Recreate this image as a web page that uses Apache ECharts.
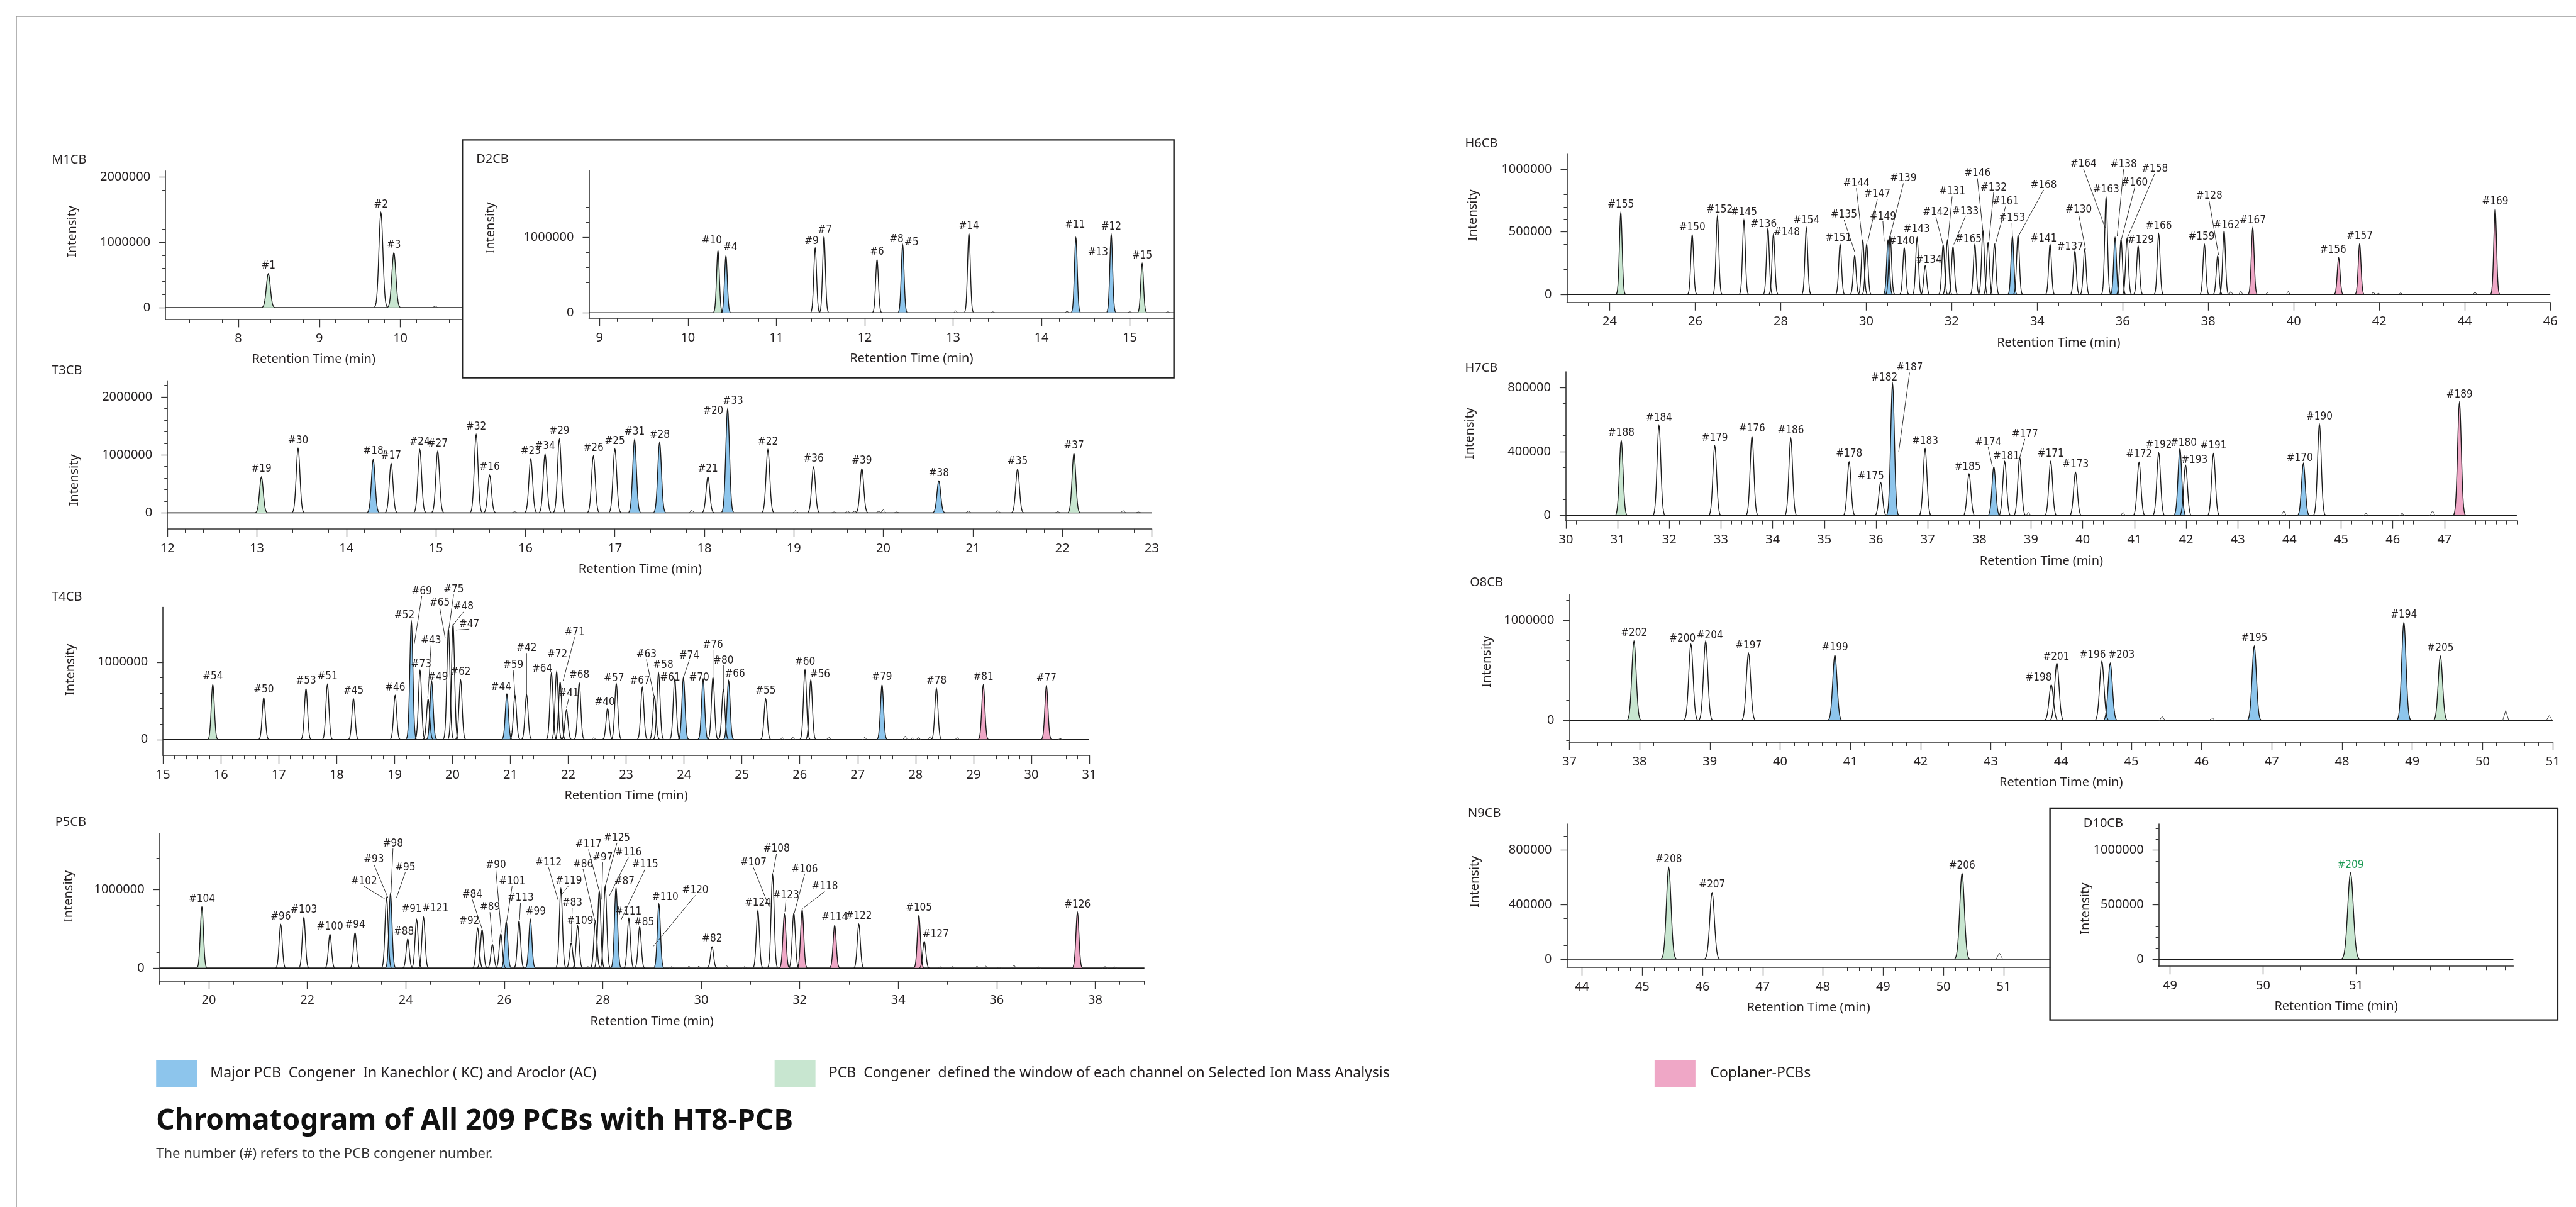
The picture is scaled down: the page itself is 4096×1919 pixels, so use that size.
<!DOCTYPE html>
<html><head><meta charset="utf-8">
<script src="https://cdn.jsdelivr.net/npm/echarts@6/dist/echarts.min.js"></script>
<style>html,body{margin:0;padding:0;background:#fff}#c{width:4096px;height:1919px}</style>
</head><body><div id="c"></div>
<script>
// ---------------- DATA ----------------
// peak rows: [label, retentionTime, intensity(null = label only), class(0 none,1 major,2 window,3 coplanar), labelRt, labelY, leaderRt, leaderY]
const M1CB_PEAKS = [
 ['#1', 8.37, 520000, 2], ['#2', 9.76, 1450000, 0], ['#3', 9.92, 840000, 2]
];
const M1CB_NOISE = [[10.43, 25000]];
const M1CB_XTICKS = [8, 9, 10];
const M1CB_YTICKS = [0, 1000000, 2000000];

const D2CB_PEAKS = [
 ['#10', 10.34, 823000, 2, 10.27, 956000], ['#4', 10.43, 753000, 1, 10.48, 869000],
 ['#9', 11.44, 856000, 0, 11.40, 945000], ['#7', 11.54, 1010000, 0, 11.55, 1100000],
 ['#6', 12.14, 703000, 0], ['#8', 12.43, 900000, 1, 12.36, 970000], ['#5', 12.43, null, 0, 12.53, 930000],
 ['#14', 13.18, 1048000, 0], ['#11', 14.39, 993000, 1, 14.38, 1168000], ['#13', 14.64, null, 0, 14.64, 797000],
 ['#12', 14.79, 1037000, 1], ['#15', 15.14, 655000, 2]
];
const D2CB_NOISE = [[13.03, 25000], [13.45, 12000], [14.29, 20000], [15.0, 15000], [15.43, 12000]];
const D2CB_XTICKS = [9, 10, 11, 12, 13, 14, 15];
const D2CB_YTICKS = [0, 1000000];

const T3CB_PEAKS = [
 ['#19', 13.05, 620000, 2], ['#30', 13.46, 1110000, 0], ['#18', 14.30, 920000, 1], ['#17', 14.50, 850000, 0],
 ['#24', 14.82, 1090000, 0], ['#27', 15.02, 1060000, 0], ['#32', 15.45, 1350000, 0], ['#16', 15.60, 650000, 0],
 ['#23', 16.06, 930000, 0], ['#34', 16.22, 1010000, 0], ['#29', 16.38, 1270000, 0], ['#26', 16.76, 980000, 0],
 ['#25', 17.00, 1100000, 0], ['#31', 17.22, 1260000, 1], ['#28', 17.50, 1210000, 1], ['#21', 18.04, 620000, 0],
 ['#20', 18.26, 1790000, 1, 18.10, 1760000], ['#33', 18.26, null, 0, 18.32, 1930000],
 ['#22', 18.71, 1090000, 0], ['#36', 19.22, 790000, 0], ['#39', 19.76, 760000, 0], ['#38', 20.62, 550000, 1],
 ['#35', 21.50, 750000, 0], ['#37', 22.13, 1020000, 2]
];
const T3CB_NOISE = [[15.88, 20000], [17.86, 45000], [19.02, 45000], [19.45, 15000], [19.6, 30000], [19.68, 30000],
 [19.95, 30000], [20.0, 55000], [20.15, 15000], [20.95, 30000], [21.28, 35000], [21.95, 20000], [22.68, 40000], [22.85, 15000]];
const T3CB_XTICKS = [12, 13, 14, 15, 16, 17, 18, 19, 20, 21, 22, 23];
const T3CB_YTICKS = [0, 1000000, 2000000];

const T4CB_PEAKS = [
 ['#54', 15.86, 710000, 2], ['#50', 16.74, 540000, 0], ['#53', 17.47, 655000, 0], ['#51', 17.84, 710000, 0],
 ['#45', 18.29, 525000, 0], ['#46', 19.01, 570000, 0],
 ['#52', 19.29, 1520000, 1, 19.17, 1606000], ['#69', 19.34, null, 0, 19.47, 1915000, 19.34, 1234000],
 ['#73', 19.44, 890000, 0, 19.46, 968000], ['#43', 19.58, 520000, 0, 19.63, 1277000, 19.575, 543000],
 ['#49', 19.64, 755000, 1, 19.75, 810000], ['#65', 19.875, null, 0, 19.78, 1766000, 19.875, 1309000],
 ['#75', 19.93, 1430000, 0, 20.02, 1936000, 19.94, 1436000], ['#48', 20.01, 1480000, 0, 20.19, 1713000, 20.01, 1479000],
 ['#47', 20.06, null, 0, 20.29, 1489000, 20.06, 1415000], ['#62', 20.14, 770000, 0],
 ['#44', 20.94, 585000, 1, 20.84, 680000], ['#59', 21.08, 570000, 0, 21.05, 957000, 21.08, 570000],
 ['#42', 21.28, 580000, 0, 21.28, 1180000, 21.28, 580000], ['#64', 21.71, 860000, 0, 21.55, 915000],
 ['#72', 21.80, 875000, 0, 21.81, 1096000], ['#71', 21.86, 740000, 0, 22.11, 1383000, 21.91, 755000],
 ['#41', 21.97, 380000, 0, 22.01, 596000, 21.97, 415000], ['#68', 22.19, 730000, 0],
 ['#40', 22.68, 400000, 0, 22.63, 485000], ['#57', 22.83, 720000, 0, 22.79, 787000],
 ['#67', 23.28, 675000, 0, 23.24, 760000], ['#63', 23.49, 560000, 0, 23.35, 1096000, 23.48, 564000],
 ['#58', 23.56, 860000, 0, 23.64, 957000], ['#61', 23.84, 780000, 0, 23.76, 800000],
 ['#74', 23.99, 800000, 1, 24.09, 1085000, 23.99, 800000], ['#70', 24.33, 780000, 1, 24.26, 800000],
 ['#76', 24.50, 800000, 0, 24.50, 1223000, 24.50, 800000], ['#80', 24.68, 645000, 0, 24.68, 1020000, 24.68, 645000],
 ['#66', 24.77, 760000, 1, 24.88, 850000], ['#55', 25.41, 525000, 0], ['#60', 26.09, 900000, 0],
 ['#56', 26.19, 770000, 0, 26.35, 840000], ['#79', 27.42, 705000, 1], ['#78', 28.36, 660000, 0],
 ['#81', 29.17, 705000, 3], ['#77', 30.26, 690000, 3]
];
const T4CB_NOISE = [[22.44, 25000], [25.7, 25000], [25.88, 30000], [26.5, 35000], [27.12, 30000], [27.82, 45000],
 [27.95, 25000], [28.05, 25000], [28.25, 40000], [28.72, 25000], [30.5, 12000]];
const T4CB_XTICKS = [15, 16, 17, 18, 19, 20, 21, 22, 23, 24, 25, 26, 27, 28, 29, 30, 31];
const T4CB_YTICKS = [0, 1000000];

const P5CB_PEAKS = [
 ['#104', 19.86, 780000, 2], ['#96', 21.46, 556000, 0], ['#103', 21.93, 644000, 0], ['#100', 22.46, 430000, 0],
 ['#94', 22.97, 450000, 0], ['#102', 23.61, 895000, 0, 23.15, 1105000, 23.57, 885000],
 ['#93', 23.64, null, 0, 23.35, 1387000, 23.64, 895000], ['#98', 23.69, 950000, 1, 23.74, 1586000, 23.70, 958000],
 ['#95', 23.81, null, 0, 23.99, 1282000, 23.81, 895000], ['#88', 24.04, 370000, 0, 23.96, 460000],
 ['#91', 24.22, 620000, 0, 24.12, 749000], ['#121', 24.36, 650000, 0, 24.60, 760000],
 ['#92', 25.46, 510000, 0, 25.29, 600000], ['#84', 25.55, 490000, 0, 25.35, 937000, 25.55, 498000],
 ['#89', 25.76, 300000, 0, 25.71, 774000, 25.76, 330000], ['#90', 25.93, 435000, 0, 25.83, 1314000, 25.94, 456000],
 ['#101', 26.04, 590000, 1, 26.16, 1105000, 26.05, 600000], ['#113', 26.30, 600000, 0, 26.33, 895000, 26.31, 613000],
 ['#99', 26.53, 620000, 1, 26.64, 718000], ['#112', 27.15, 1010000, 0, 26.90, 1345000, 27.10, 854000],
 ['#119', 27.16, null, 0, 27.31, 1115000, 27.16, 937000], ['#83', 27.36, 320000, 0, 27.38, 833000, 27.36, 330000],
 ['#109', 27.49, 540000, 0, 27.54, 600000], ['#86', 27.85, 600000, 0, 27.60, 1324000, 27.84, 600000],
 ['#117', 27.93, 980000, 0, 27.71, 1575000, 27.93, 980000], ['#97', 27.98, null, 0, 28.0, 1410000, 27.98, 874000],
 ['#125', 28.05, 1040000, 0, 28.29, 1660000, 28.05, 1040000], ['#116', 28.13, null, 0, 28.52, 1470000, 28.13, 916000],
 ['#87', 28.27, 1020000, 1, 28.44, 1105000], ['#115', 28.37, null, 0, 28.86, 1324000, 28.37, 613000],
 ['#111', 28.53, 634000, 0, 28.52, 718000], ['#85', 28.75, 525000, 0, 28.84, 586000],
 ['#110', 29.14, 816000, 1, 29.27, 906000], ['#120', 29.03, null, 0, 29.88, 990000, 29.03, 278000],
 ['#82', 30.22, 270000, 0], ['#124', 31.15, 730000, 0], ['#107', 31.38, null, 0, 31.06, 1345000, 31.38, 780000],
 ['#108', 31.45, 1190000, 0, 31.53, 1523000, 31.46, 1220000], ['#123', 31.69, 686000, 3, 31.72, 927000, 31.70, 718000],
 ['#106', 31.88, 700000, 0, 32.10, 1260000, 31.89, 700000], ['#118', 32.05, 740000, 3, 32.51, 1040000, 32.06, 760000],
 ['#114', 32.71, 544000, 3], ['#122', 33.20, 560000, 0], ['#105', 34.42, 670000, 3],
 ['#127', 34.53, 340000, 0, 34.76, 430000], ['#126', 37.64, 710000, 3]
];
const P5CB_NOISE = [[27.7, 20000], [29.4, 20000], [29.75, 25000], [29.95, 25000], [30.52, 30000], [30.88, 20000],
 [34.85, 20000], [35.1, 20000], [35.6, 25000], [35.78, 25000], [36.05, 15000], [36.35, 40000], [36.85, 15000], [38.2, 20000], [38.4, 15000]];
const P5CB_XTICKS = [20, 22, 24, 26, 28, 30, 32, 34, 36, 38];
const P5CB_YTICKS = [0, 1000000];

const H6CB_PEAKS = [
 ['#155', 24.26, 652000, 2], ['#150', 25.93, 475000, 0], ['#152', 26.52, 623000, 0, 26.57, 676000],
 ['#145', 27.14, 593000, 0], ['#136', 27.70, 525000, 0, 27.60, 562000], ['#148', 27.83, 480000, 0, 28.14, 495000],
 ['#154', 28.60, 530000, 0], ['#151', 29.39, 400000, 0, 29.35, 449000],
 ['#135', 29.73, 310000, 0, 29.48, 636000, 29.73, 341000], ['#144', 29.92, 433000, 0, 29.77, 886000, 29.90, 453000],
 ['#147', 30.01, 400000, 0, 30.26, 800000, 30.04, 426000], ['#149', 30.51, 433000, 1, 30.39, 623000, 30.42, 426000],
 ['#139', 30.56, 470000, 0, 30.87, 925000, 30.55, 453000], ['#140', 30.89, 370000, 0, 30.83, 426000],
 ['#143', 31.19, 453000, 0, 31.18, 521000], ['#134', 31.38, 230000, 0, 31.46, 276000],
 ['#142', 31.80, 394000, 0, 31.63, 656000, 31.80, 394000], ['#131', 31.90, 433000, 0, 32.01, 820000, 31.91, 426000],
 ['#133', 32.03, 380000, 0, 32.32, 663000, 32.05, 400000], ['#165', 32.54, 400000, 0, 32.39, 440000],
 ['#146', 32.73, 505000, 0, 32.60, 965000, 32.73, 505000], ['#132', 32.85, 413000, 0, 32.98, 853000, 32.87, 426000],
 ['#161', 33.0, 400000, 0, 33.26, 741000, 33.02, 400000], ['#153', 33.42, 460000, 1, 33.41, 610000, 33.42, 453000],
 ['#168', 33.55, 466000, 0, 34.15, 873000, 33.56, 466000], ['#141', 34.30, 400000, 0, 34.15, 446000],
 ['#137', 34.88, 345000, 0, 34.77, 380000], ['#130', 35.11, 360000, 0, 34.97, 676000, 35.13, 360000],
 ['#164', 35.59, null, 0, 35.08, 1043000, 35.59, 531000], ['#163', 35.61, 774000, 0],
 ['#138', 35.82, 453000, 1, 36.02, 1037000, 35.87, 466000], ['#160', 35.96, 440000, 0, 36.28, 892000, 35.97, 440000],
 ['#158', 36.10, 446000, 0, 36.75, 1004000, 36.11, 453000], ['#129', 36.36, 387000, 0, 36.42, 433000],
 ['#166', 36.84, 483000, 0], ['#159', 37.91, 400000, 0, 37.84, 460000],
 ['#128', 38.22, 308000, 0, 38.02, 787000, 38.24, 315000], ['#162', 38.37, 505000, 0, 38.43, 551000],
 ['#167', 39.04, 530000, 3], ['#156', 41.05, 293000, 3, 40.92, 354000], ['#157', 41.54, 403000, 3],
 ['#169', 44.71, 680000, 3]
];
const H6CB_NOISE = [[38.53, 25000], [38.76, 30000], [39.38, 15000], [39.87, 25000], [41.86, 20000], [41.98, 10000],
 [42.5, 15000], [44.24, 20000]];
const H6CB_XTICKS = [24, 26, 28, 30, 32, 34, 36, 38, 40, 42, 44, 46];
const H6CB_YTICKS = [0, 500000, 1000000];

const H7CB_PEAKS = [
 ['#188', 31.07, 468000, 2], ['#184', 31.80, 562000, 0], ['#179', 32.88, 435000, 0], ['#176', 33.60, 493000, 0],
 ['#186', 34.35, 483000, 0], ['#178', 35.48, 335000, 0], ['#175', 36.09, 207000, 0, 35.90, 246000],
 ['#182', 36.32, 823000, 1, 36.16, 860000], ['#187', 36.44, null, 0, 36.65, 923000, 36.44, 400000],
 ['#183', 36.95, 417000, 0], ['#185', 37.80, 260000, 0, 37.77, 304000],
 ['#174', 38.28, 304000, 1, 38.17, 458000, 38.25, 309000], ['#181', 38.49, 338000, 0, 38.52, 370000],
 ['#177', 38.78, 362000, 0, 38.88, 509000, 38.78, 360000], ['#171', 39.38, 338000, 0], ['#173', 39.86, 270000, 0],
 ['#172', 41.09, 332000, 0], ['#192', 41.47, 391000, 0], ['#180', 41.88, 417000, 1, 41.95, 452000],
 ['#193', 41.99, 314000, 0, 42.16, 345000], ['#191', 42.53, 386000, 0], ['#170', 44.27, 326000, 1, 44.20, 360000],
 ['#190', 44.58, 570000, 0], ['#189', 47.29, 705000, 3]
];
const H7CB_NOISE = [[38.95, 20000], [40.78, 20000], [43.89, 30000], [45.48, 15000], [46.18, 15000], [46.77, 30000]];
const H7CB_XTICKS = [30, 31, 32, 33, 34, 35, 36, 37, 38, 39, 40, 41, 42, 43, 44, 45, 46, 47];
const H7CB_YTICKS = [0, 400000, 800000];

const O8CB_PEAKS = [
 ['#202', 37.92, 790000, 2], ['#200', 38.73, 760000, 0, 38.61, 816000], ['#204', 38.94, 790000, 0, 39.0, 848000],
 ['#197', 39.55, 670000, 0], ['#199', 40.78, 650000, 1], ['#198', 43.86, 356000, 0, 43.68, 427000],
 ['#201', 43.94, 571000, 0, 43.93, 636000], ['#196', 44.58, 590000, 0, 44.45, 653000],
 ['#203', 44.70, 571000, 1, 44.86, 653000], ['#195', 46.75, 740000, 1], ['#194', 48.88, 974000, 1],
 ['#205', 49.40, 640000, 2]
];
const O8CB_NOISE = [[45.44, 40000], [46.15, 30000], [50.33, 100000], [50.95, 50000]];
const O8CB_XTICKS = [37, 38, 39, 40, 41, 42, 43, 44, 45, 46, 47, 48, 49, 50, 51];
const O8CB_YTICKS = [0, 1000000];

const N9CB_PEAKS = [['#208', 45.44, 670000, 2], ['#207', 46.16, 486000, 0], ['#206', 50.31, 627000, 2]];
const N9CB_NOISE = [[50.93, 45000]];
const N9CB_XTICKS = [44, 45, 46, 47, 48, 49, 50, 51];
const N9CB_YTICKS = [0, 400000, 800000];

const D10CB_PEAKS = [['#209', 50.94, 790000, 2]];
const D10CB_NOISE = [];
const D10CB_XTICKS = [49, 50, 51];
const D10CB_YTICKS = [0, 500000, 1000000];

const LEGEND_TEXTS = ['Major PCB  Congener  In Kanechlor ( KC) and Aroclor (AC)',
 'PCB  Congener  defined the window of each channel on Selected Ion Mass Analysis', 'Coplaner-PCBs'];
const TITLE = 'Chromatogram of All 209 PCBs with HT8-PCB';
const SUBTITLE = 'The number (#) refers to the PCB congener number.';

// ---------------- LAYOUT / STYLE (reference px, scaled by S) ----------------
const S = 0.783;
const FONT = "'Noto Sans', 'Open Sans', sans-serif";
const NARROW = "'Liberation Sans Narrow', 'DejaVu Sans Condensed', Roboto, sans-serif";
const FILL = [null, '#8dc5ec', '#c8e6d0', '#efa7c6'];
const TXT = '#231f20', LINE = '#1a1a1a', AX = '#333';
const LFS = 17;

const PANELS = [
 {t:'M1CB', pk:M1CB_PEAKS, nz:M1CB_NOISE, L:336, R:938, T:347, B:648, tx:105, ty:325, ix:147, iy:470,
  xr:[7.1, 10.76], xt:M1CB_XTICKS, xm:0.2, yr:[-175000, 2090000], yt:M1CB_YTICKS, ym:200000, hw:13},
 {t:'D2CB', pk:D2CB_PEAKS, nz:D2CB_NOISE, L:1196, R:2384, T:346, B:646, tx:967, ty:323, ix:996, iy:463, nx:1851,
  xr:[8.88, 15.5], xt:D2CB_XTICKS, xm:0.2, yr:[-72000, 1890000], yt:D2CB_YTICKS, ym:200000, hw:9},
 {t:'T3CB', pk:T3CB_PEAKS, nz:T3CB_NOISE, L:340, R:2339, T:773, B:1074, tx:105, ty:752, ix:151, iy:975, nx:1300,
  xr:[12, 23], xt:T3CB_XTICKS, xm:0.2, yr:[-278000, 2280000], yt:T3CB_YTICKS, ym:200000, hw:12},
 {t:'T4CB', pk:T4CB_PEAKS, nz:T4CB_NOISE, L:331, R:2212, T:1233, B:1534, tx:105, ty:1212, ix:144, iy:1360,
  xr:[15, 31], xt:T4CB_XTICKS, xm:0.2, yr:[-206000, 1710000], yt:T4CB_YTICKS, ym:200000, hw:10},
 {t:'P5CB', pk:P5CB_PEAKS, nz:P5CB_NOISE, L:324, R:2324, T:1692, B:1992, tx:112, ty:1670, ix:140, iy:1820,
  xr:[19, 39], xt:P5CB_XTICKS, xm:0.5, yr:[-165000, 1720000], yt:P5CB_YTICKS, ym:200000, hw:10},
 {t:'H6CB', pk:H6CB_PEAKS, nz:H6CB_NOISE, L:3182, R:5179, T:313, B:614, tx:2975, ty:292, ix:2992, iy:437,
  xr:[23, 46], xt:H6CB_XTICKS, xm:0.5, yr:[-63000, 1120000], yt:H6CB_YTICKS, ym:100000, hw:9},
 {t:'H7CB', pk:H7CB_PEAKS, nz:H7CB_NOISE, L:3180, R:5111, T:755, B:1057, tx:2975, ty:748, ix:2985, iy:880,
  xr:[30, 48.4], xt:H7CB_XTICKS, xm:0.2, yr:[-31000, 898000], yt:H7CB_YTICKS, ym:100000, hw:12},
 {t:'O8CB', pk:O8CB_PEAKS, nz:O8CB_NOISE, L:3187, R:5184, T:1207, B:1507, tx:2985, ty:1183, ix:3020, iy:1343,
  xr:[37, 51], xt:O8CB_XTICKS, xm:0.2, yr:[-215000, 1256000], yt:O8CB_YTICKS, ym:200000, hw:14},
 {t:'N9CB', pk:N9CB_PEAKS, nz:N9CB_NOISE, L:3182, R:4163, T:1673, B:1964, tx:2981, ty:1652, ix:2995, iy:1790,
  xr:[43.75, 51.77], xt:N9CB_XTICKS, xm:0.2, yr:[-59000, 990000], yt:N9CB_YTICKS, ym:100000, hw:15},
 {t:'D10CB', pk:D10CB_PEAKS, nz:D10CB_NOISE, L:4384, R:5104, T:1673, B:1962, tx:4231, ty:1672, ix:4236, iy:1845,
  xr:[48.88, 52.69], xt:D10CB_XTICKS, xm:0.2, yr:[-63000, 1240000], yt:D10CB_YTICKS, ym:100000, hw:18, lc:'#1f9a55'}
];

function steps(a, b, st) {
  const out = [];
  const k0 = Math.ceil(a / st - 1e-9), k1 = Math.floor(b / st + 1e-9);
  for (let k = k0; k <= k1; k++) out.push(+(k * st).toFixed(6));
  return out;
}

function peakRender(P, mode) {
  return function (params, api) {
    const p = P.pk[params.dataIndex];
    const ch = [];
    const hw = P.hw * S, sig = hw / 3.2;
    let topPt = null;
    if (p[2] != null) {
      const b = api.coord([p[1], 0]), t = api.coord([p[1], p[2]]);
      topPt = t;
      const pts = [];
      for (let k = 0; k <= 40; k++) {
        const u = -3.2 + 6.4 * k / 40;
        pts.push([b[0] + u * sig, b[1] - (b[1] - t[1]) * Math.exp(-u * u / 2)]);
      }
      if (mode === 'fill') {
        if (p[3]) ch.push({type: 'polygon', shape: {points: pts}, style: {fill: FILL[p[3]]}});
      } else {
        ch.push({type: 'polyline', shape: {points: pts}, style: {stroke: LINE, lineWidth: 1.4, fill: null}});
      }
    }
    if (mode === 'stroke' && p[0]) {
      let lx, ly;
      if (p[4] != null) { const c = api.coord([p[4], p[5]]); lx = c[0]; ly = c[1]; }
      else { lx = topPt[0]; ly = topPt[1] - LFS * 0.5 - 4; }
      ch.push({type: 'text', x: lx, y: ly, style: {text: p[0], fill: P.lc || TXT, fontSize: LFS,
        fontFamily: NARROW, align: 'center', verticalAlign: 'middle'}});
      if (p[6] != null) {
        const tg = api.coord([p[6], p[7]]);
        ch.push({type: 'line', shape: {x1: lx, y1: ly + LFS * 0.45, x2: tg[0], y2: tg[1]},
          style: {stroke: LINE, lineWidth: 0.9}});
      }
    }
    return {type: 'group', children: ch};
  };
}

function noiseRender(P) {
  return function (params, api) {
    const n = P.nz[params.dataIndex];
    const b = api.coord([n[0], 0]), t = api.coord([n[0], n[1]]);
    const w = P.hw * S * 0.45;
    return {type: 'polyline', shape: {points: [[b[0] - w, b[1]], [t[0], t[1]], [b[0] + w, b[1]]]},
      style: {stroke: '#444', lineWidth: 1, fill: null}};
  };
}

const grids = [], xAxes = [], yAxes = [], series = [], graphics = [];
const fmt = v => String(v);

PANELS.forEach((P, i) => {
  grids.push({left: P.L * S, top: P.T * S, width: (P.R - P.L) * S, height: (P.B - P.T) * S, containLabel: false});
  const common = {gridIndex: i, type: 'value', splitLine: {show: false}};
  xAxes.push(Object.assign({}, common, {min: P.xr[0], max: P.xr[1], position: 'bottom',
    axisLine: {show: true, onZero: false, lineStyle: {color: AX, width: 1.6}},
    axisTick: {show: true, customValues: P.xt, length: 13, lineStyle: {color: AX, width: 1.3}},
    axisLabel: {show: true, customValues: P.xt, margin: 21, fontSize: 20, color: TXT, fontFamily: FONT, formatter: fmt}}));
  xAxes.push(Object.assign({}, common, {min: P.xr[0], max: P.xr[1], position: 'bottom',
    axisLine: {show: false, onZero: false},
    axisTick: {show: true, customValues: steps(P.xr[0], P.xr[1], P.xm), length: 6, lineStyle: {color: AX, width: 1}},
    axisLabel: {show: false}}));
  yAxes.push(Object.assign({}, common, {min: P.yr[0], max: P.yr[1], position: 'left',
    axisLine: {show: true, onZero: false, lineStyle: {color: AX, width: 1.6}},
    axisTick: {show: true, customValues: P.yt, length: 10, lineStyle: {color: AX, width: 1.3}},
    axisLabel: {show: true, customValues: P.yt, margin: 24, fontSize: 20, color: TXT, fontFamily: FONT, formatter: fmt}}));
  yAxes.push(Object.assign({}, common, {min: P.yr[0], max: P.yr[1], position: 'left',
    axisLine: {show: false, onZero: false},
    axisTick: {show: true, customValues: steps(P.yr[0], P.yr[1], P.ym), length: 5, lineStyle: {color: AX, width: 1}},
    axisLabel: {show: false}}));
  const xi = 2 * i, yi = 2 * i;
  series.push({type: 'line', xAxisIndex: xi, yAxisIndex: yi, data: [[P.xr[0], 0], [P.xr[1], 0]],
    symbol: 'none', lineStyle: {color: LINE, width: 1.6}, silent: true, z: 2});
  const pd = P.pk.map(p => [p[1], p[2] == null ? 0 : p[2]]);
  series.push({type: 'custom', xAxisIndex: xi, yAxisIndex: yi, data: pd, encode: {x: 0, y: 1},
    renderItem: peakRender(P, 'fill'), clip: false, silent: true, z: 3});
  series.push({type: 'custom', xAxisIndex: xi, yAxisIndex: yi, data: P.nz, encode: {x: 0, y: 1},
    renderItem: noiseRender(P), clip: false, silent: true, z: 4});
  series.push({type: 'custom', xAxisIndex: xi, yAxisIndex: yi, data: pd, encode: {x: 0, y: 1},
    renderItem: peakRender(P, 'stroke'), clip: false, silent: true, z: 5});

  graphics.push({type: 'text', x: P.tx * S, y: P.ty * S, style: {text: P.t, fill: TXT, fontSize: 20,
    fontFamily: FONT, align: 'left', verticalAlign: 'middle'}});
  graphics.push({type: 'text', x: P.ix * S, y: P.iy * S, rotation: Math.PI / 2, style: {text: 'Intensity',
    fill: TXT, fontSize: 20, fontFamily: FONT, align: 'center', verticalAlign: 'middle'}});
  graphics.push({type: 'text', x: (P.nx || (P.L + P.R) / 2) * S, y: (P.B + 82) * S, style: {text: 'Retention Time (min)',
    fill: TXT, fontSize: 20, fontFamily: FONT, align: 'center', verticalAlign: 'middle'}});
});

// boxes
[[939, 284, 2384, 767], [4163, 1641, 5194, 2071]].forEach(r => {
  graphics.push({type: 'rect', shape: {x: r[0] * S, y: r[1] * S, width: (r[2] - r[0]) * S, height: (r[3] - r[1]) * S},
    style: {fill: 'rgba(0,0,0,0)', stroke: '#222', lineWidth: 2.4}, z: 10});
});
// page frame lines
graphics.push({type: 'line', shape: {x1: 26, y1: 26, x2: 4096, y2: 26}, style: {stroke: '#9a9a9a', lineWidth: 1.5}});
graphics.push({type: 'line', shape: {x1: 26, y1: 26, x2: 26, y2: 1919}, style: {stroke: '#9a9a9a', lineWidth: 1.5}});
// legend
const LEG = [[317, 427, 1], [1573, 1683, 2], [3360, 3473, 3]];
LEG.forEach((l, k) => {
  graphics.push({type: 'rect', shape: {x: l[0] * S, y: 2153 * S, width: 83 * S, height: 54 * S}, style: {fill: FILL[l[2]]}});
  graphics.push({type: 'text', x: l[1] * S, y: 2180 * S, style: {text: LEGEND_TEXTS[k], fill: TXT, fontSize: 23,
    fontFamily: FONT, align: 'left', verticalAlign: 'middle'}});
});
graphics.push({type: 'text', x: 317 * S, y: 2277 * S, style: {text: TITLE, fill: '#111', fontSize: 46, fontWeight: 'bold',
  fontFamily: FONT, align: 'left', verticalAlign: 'middle'}});
graphics.push({type: 'text', x: 317 * S, y: 2343 * S, style: {text: SUBTITLE, fill: '#333', fontSize: 22,
  fontFamily: FONT, align: 'left', verticalAlign: 'middle'}});

const chart = echarts.init(document.getElementById('c'), null, {renderer: 'canvas', width: 4096, height: 1919});
chart.setOption({animation: false, backgroundColor: '#fff', grid: grids, xAxis: xAxes, yAxis: yAxes,
  series: series, graphic: {elements: graphics}});
</script></body></html>
